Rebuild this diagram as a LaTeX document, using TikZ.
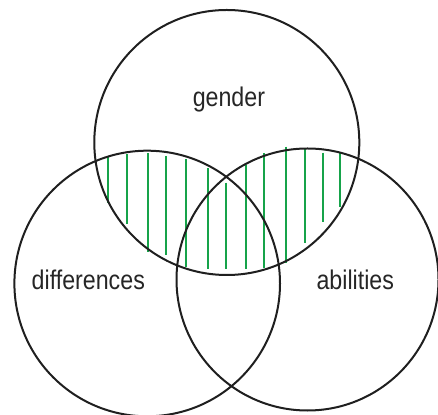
\documentclass[tikz,border=0pt]{standalone}
\usepackage{fontspec}
\usepackage{graphicx}
\setmainfont{Liberation Sans}
\definecolor{hatch}{RGB}{22,163,74}
\tikzset{
  venn/.style={draw=black!88, line width=2pt},
  hatchline/.style={draw=hatch, line width=2.1pt},
  lbl/.style={inner sep=0pt, anchor=base, text=black!85, font=\fontsize{27}{30}\selectfont}
}
\newcommand{\cond}[1]{\scalebox{0.86}[1]{#1}}
\begin{document}
\begin{tikzpicture}[x=1pt,y=1pt]
\useasboundingbox (0,0) rectangle (438,414);
% hatch lines (image coords x, ytop, ybottom) -> y = 414 - img
\foreach \x/\a/\b [count=\i] in {107.7/156.7/203, 126.7/154/224, 147.7/153.3/251.7, 165.7/156/255,
  186/159.3/266.7, 208.3/168.3/269.3, 226.3/182.7/269.3, 246.3/165/269.3, 264.3/153.3/268.3,
  286/146.7/263.3, 305.3/149.3/242.7, 323.3/152.7/221.7, 340/152.7/206.7}{
  \coordinate (h\i t) at (\x,414-\a);
  \coordinate (h\i b) at (\x,414-\b);
  \draw[hatchline] (h\i t) -- (h\i b);
}
\node[venn, circle, minimum size=265pt, inner sep=0pt] (top) at (226.8,271.5) {};
\node[venn, circle, minimum size=265.6pt, inner sep=0pt] (left) at (147.2,130.5) {};
\node[venn, circle, minimum size=262pt, inner sep=0pt] (right) at (307.5,134.5) {};
\node[lbl] (gender) at (228.9,414-107) {\cond{gender}};
\node[lbl] (diff) at (88.3,414-290) {\cond{differences}};
\node[lbl] (abil) at (355.3,414-289.5) {\cond{abilities}};
\end{tikzpicture}
\end{document}
